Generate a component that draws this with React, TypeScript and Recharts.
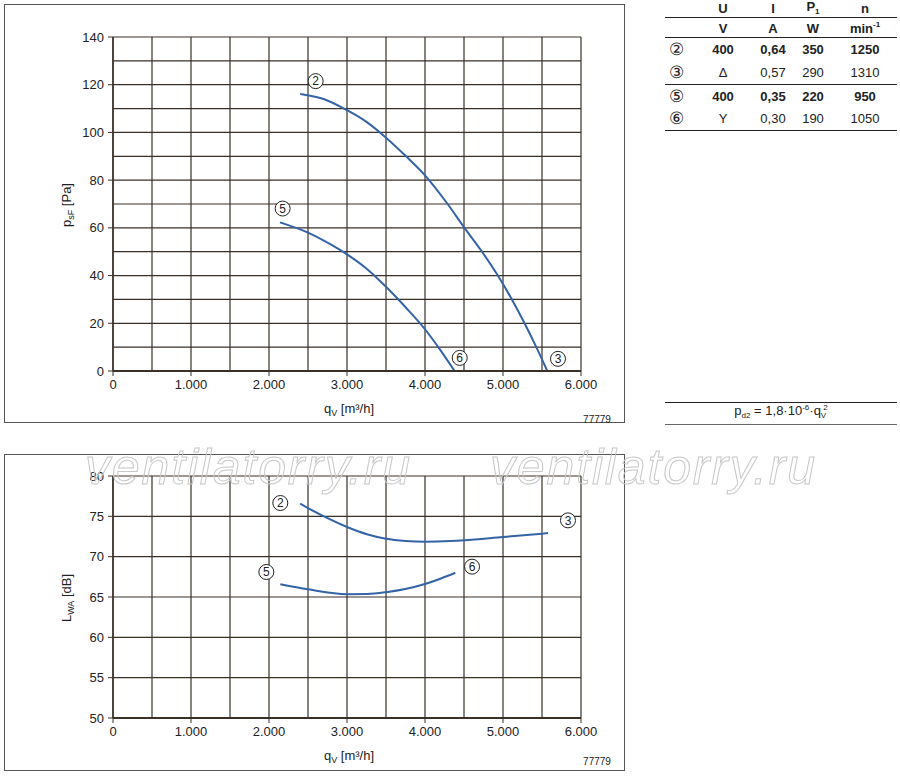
import React from 'react';
import { ComposedChart, Line, Scatter, XAxis, YAxis, CartesianGrid, ReferenceLine } from 'recharts';

// q_V [m³/h] -> p_sF [Pa]
const pressureQ23 = [2400, 2700, 3000, 3250, 3500, 3760, 4000, 4290, 4506, 4720, 4934, 5105, 5276, 5427, 5568];
const pressureP23 = [116.1, 114.0, 109.3, 104.4, 97.8, 89.9, 82.0, 70, 60, 50.5, 40, 30.5, 20, 10, 0];
const pressureQ56 = [2140, 2500, 2750, 3000, 3244, 3500, 3757, 4000, 4186, 4380];
const pressureP56 = [62.3, 58.0, 53.8, 48.9, 43.1, 35.3, 26.5, 17.5, 9.3, 0];

// q_V [m³/h] -> L_WA [dB]
const soundQ23 = [2400, 2500, 2744, 3000, 3256, 3500, 3752, 4000, 4325, 4500, 5000, 5500, 5577];
const soundL23 = [76.57, 76.03, 74.8, 73.68, 72.78, 72.22, 71.95, 71.86, 71.93, 72.02, 72.44, 72.85, 72.92];
const soundQ56 = [2145, 2500, 3000, 3256, 3500, 4000, 4197, 4389];
const soundL56 = [66.57, 65.95, 65.35, 65.37, 65.6, 66.62, 67.27, 68.0];

// circled curve numbers
const pressureTags = [
  { id: '2', q: 2598, v: 121.5 },
  { id: '5', q: 2175, v: 68.1 },
  { id: '6', q: 4445, v: 5.5 },
  { id: '3', q: 5705, v: 5.1 },
];
const soundTags = [
  { id: '2', q: 2145, v: 76.65 },
  { id: '3', q: 5833, v: 74.5 },
  { id: '5', q: 1966, v: 68.1 },
  { id: '6', q: 4603, v: 68.76 },
];

const qTicks = [0, 1000, 2000, 3000, 4000, 5000, 6000];
const qGrid = [0, 500, 1000, 1500, 2000, 2500, 3000, 3500, 4000, 4500, 5000, 5500, 6000];
const pTicks = [0, 20, 40, 60, 80, 100, 120, 140];
const pGrid = [0, 10, 20, 30, 40, 50, 60, 70, 80, 90, 100, 110, 120, 130, 140];
const lTicks = [50, 55, 60, 65, 70, 75, 80];

const tableHead = ['U', 'I', 'P', 'n'];
const tableUnits = ['V', 'A', 'W', 'min'];
const tableRows = [
  { id: '②', cells: ['400', '0,64', '350', '1250'], bold: true },
  { id: '③', cells: ['Δ', '0,57', '290', '1310'], bold: false },
  { id: '⑤', cells: ['400', '0,35', '220', '950'], bold: true },
  { id: '⑥', cells: ['Y', '0,30', '190', '1050'], bold: false },
];

const FONT = '"Liberation Sans", Arial, Helvetica, sans-serif';
const BLUE = '#3463a6';
const GRID = '#3a3026';
const INK = '#222';

const toPts = (qs: number[], vs: number[]) => qs.map((q, i) => ({ q, v: vs[i] }));
const fmtQ = (v: number) => (v === 0 ? '0' : `${v / 1000}.000`);

const Tag = (props: any) => {
  const { cx, cy, payload } = props;
  return (
    <g>
      <circle cx={cx} cy={cy} r={7.5} fill="#fff" stroke={INK} strokeWidth={1} />
      <text x={cx} y={cy} dy={4.3} textAnchor="middle" fontSize={12} fontFamily={FONT} fill={INK}>
        {payload.id}
      </text>
    </g>
  );
};

const Txt = ({ x, y, children, style }: any) => (
  <div
    style={{
      position: 'absolute',
      left: x,
      top: y,
      transform: 'translate(-50%, -50%)',
      whiteSpace: 'nowrap',
      lineHeight: 1,
      fontFamily: FONT,
      fontSize: 13,
      color: INK,
      ...style,
    }}
  >
    {children}
  </div>
);

const tickStyle = { fill: INK, fontSize: 13, fontFamily: FONT };

// vertical grid every 500 m³/h, drawn through the x scale
const qGridLines = () =>
  qGrid.map((q) => <ReferenceLine key={q} x={q} stroke={GRID} strokeWidth={1.2} ifOverflow="extendDomain" />);

function PressureChart() {
  return (
    <div style={{ position: 'absolute', left: 0, top: 0 }}>
      <ComposedChart width={625} height={425} margin={{ top: 37, right: 44, bottom: 24, left: 53 }}>
        <CartesianGrid stroke={GRID} strokeWidth={1.2} vertical={false} horizontalValues={pGrid} />
        {qGridLines()}
        <XAxis
          type="number"
          dataKey="q"
          domain={[0, 6000]}
          ticks={qTicks}
          tickFormatter={fmtQ}
          height={30}
          tickSize={5}
          tickMargin={4}
          tick={tickStyle}
          stroke={GRID}
          axisLine={{ stroke: GRID, strokeWidth: 2 }}
          allowDataOverflow
        />
        <YAxis
          type="number"
          domain={[0, 140]}
          ticks={pTicks}
          width={60}
          tickSize={5}
          tickMargin={4}
          tick={tickStyle}
          stroke={GRID}
          axisLine={{ stroke: GRID, strokeWidth: 1.5 }}
          allowDataOverflow
        />
        <Line data={toPts(pressureQ23, pressureP23)} dataKey="v" type="monotone" stroke={BLUE} strokeWidth={2} dot={false} isAnimationActive={false} />
        <Line data={toPts(pressureQ56, pressureP56)} dataKey="v" type="monotone" stroke={BLUE} strokeWidth={2} dot={false} isAnimationActive={false} />
        <Scatter data={pressureTags} dataKey="v" shape={<Tag />} isAnimationActive={false} />
      </ComposedChart>
    </div>
  );
}

function SoundChart() {
  return (
    <div style={{ position: 'absolute', left: 0, top: 440 }}>
      <ComposedChart width={625} height={335} margin={{ top: 36, right: 44, bottom: 27, left: 53 }}>
        <CartesianGrid stroke={GRID} strokeWidth={1.2} vertical={false} horizontalValues={lTicks} />
        {qGridLines()}
        <XAxis
          type="number"
          dataKey="q"
          domain={[0, 6000]}
          ticks={qTicks}
          tickFormatter={fmtQ}
          height={30}
          tickSize={5}
          tickMargin={4}
          tick={tickStyle}
          stroke={GRID}
          axisLine={{ stroke: GRID, strokeWidth: 2 }}
          allowDataOverflow
        />
        <YAxis
          type="number"
          domain={[50, 80]}
          ticks={lTicks}
          width={60}
          tickSize={5}
          tickMargin={4}
          tick={tickStyle}
          stroke={GRID}
          axisLine={{ stroke: GRID, strokeWidth: 1.5 }}
          allowDataOverflow
        />
        <Line data={toPts(soundQ23, soundL23)} dataKey="v" type="monotone" stroke={BLUE} strokeWidth={2} dot={false} isAnimationActive={false} />
        <Line data={toPts(soundQ56, soundL56)} dataKey="v" type="monotone" stroke={BLUE} strokeWidth={2} dot={false} isAnimationActive={false} />
        <Scatter data={soundTags} dataKey="v" shape={<Tag />} isAnimationActive={false} />
      </ComposedChart>
    </div>
  );
}

const hLine = (y: number, w = 1.2, c = INK) => (
  <div style={{ position: 'absolute', left: 665, top: y, width: 232, height: 0, borderTop: `${w}px solid ${c}` }} />
);

function SpecTable() {
  const cols = [723, 773, 813, 865];
  const rowY = [49, 72, 96, 118];
  return (
    <>
      {tableHead.map((h, i) => (
        <Txt key={h} x={cols[i]} y={8} style={{ fontWeight: 'bold' }}>
          {h}
          {h === 'P' && <sub style={{ fontSize: 8 }}>1</sub>}
        </Txt>
      ))}
      {hLine(17)}
      {tableUnits.map((u, i) => (
        <Txt key={u} x={cols[i]} y={28} style={{ fontWeight: 'bold' }}>
          {u}
          {u === 'min' && <sup style={{ fontSize: 8 }}>-1</sup>}
        </Txt>
      ))}
      {hLine(37, 1.5)}
      {tableRows.map((r, ri) => (
        <React.Fragment key={r.id}>
          <Txt x={676} y={rowY[ri]} style={{ fontSize: 17 }}>{r.id}</Txt>
          {r.cells.map((c, ci) => (
            <Txt key={ci} x={cols[ci]} y={rowY[ri]} style={{ fontWeight: r.bold ? 'bold' : 'normal' }}>
              {c}
            </Txt>
          ))}
        </React.Fragment>
      ))}
      {hLine(84)}
      {hLine(130, 1.5)}
      {hLine(402)}
      <Txt x={781} y={412}>
        p<sub style={{ fontSize: 8 }}>d2</sub> = 1,8·10<sup style={{ fontSize: 8 }}>-6</sup>·q
        <sub style={{ fontSize: 8 }}>V</sub>
        <sup style={{ fontSize: 8, marginLeft: -3 }}>2</sup>
      </Txt>
      {hLine(424, 1.2, '#666')}
    </>
  );
}

export default function App() {
  return (
    <div style={{ position: 'absolute', left: 0, top: 0, width: 900, height: 776, background: '#fff', fontFamily: FONT }}>
      <div style={{ position: 'absolute', left: 4, top: 4, width: 621, height: 419, boxSizing: 'border-box', border: '1.5px solid #555' }} />
      <div style={{ position: 'absolute', left: 4, top: 454, width: 621, height: 317, boxSizing: 'border-box', border: '1.5px solid #555' }} />
      <PressureChart />
      <SoundChart />

      <Txt x={349} y={410}>
        q<sub style={{ fontSize: 9 }}>V</sub> [m³/h]
      </Txt>
      <Txt x={349} y={757}>
        q<sub style={{ fontSize: 9 }}>V</sub> [m³/h]
      </Txt>
      <Txt x={68} y={205} style={{ transform: 'translate(-50%, -50%) rotate(-90deg)' }}>
        p<sub style={{ fontSize: 9 }}>sF</sub> [Pa]
      </Txt>
      <Txt x={68} y={598} style={{ transform: 'translate(-50%, -50%) rotate(-90deg)' }}>
        L<sub style={{ fontSize: 9 }}>WA</sub> [dB]
      </Txt>
      <Txt x={597} y={420} style={{ fontSize: 10 }}>77779</Txt>
      <Txt x={597} y={762} style={{ fontSize: 10 }}>77779</Txt>

      <SpecTable />

      <svg width={900} height={776} style={{ position: 'absolute', left: 0, top: 0, pointerEvents: 'none' }}>
        {[85, 490].map((x) => (
          <text
            key={x}
            x={x}
            y={484}
            fontSize={50}
            fontStyle="italic"
            fontFamily={FONT}
            fill="none"
            stroke="#c8c8c8"
            strokeWidth={1}
            textLength={325}
          >
            ventilatorry.ru
          </text>
        ))}
      </svg>
    </div>
  );
}
